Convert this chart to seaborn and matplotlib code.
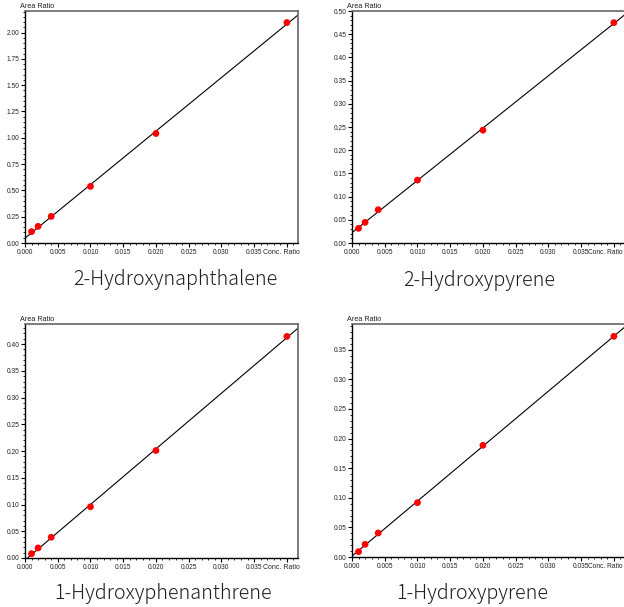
import numpy as np
import seaborn as sns
import matplotlib.pyplot as plt
from matplotlib.ticker import MultipleLocator, FuncFormatter

# concentration ratio (same for all four compounds)
conc = [0.001, 0.002, 0.004, 0.010, 0.020, 0.040]

names = ["2-Hydroxynaphthalene", "2-Hydroxypyrene",
         "1-Hydroxyphenanthrene", "1-Hydroxypyrene"]

area_naphthalene = [0.108, 0.158, 0.253, 0.538, 1.041, 2.095]
area_2pyrene = [0.0316, 0.0445, 0.0717, 0.1356, 0.2432, 0.4749]
area_phenanthrene = [0.0081, 0.0188, 0.0388, 0.0958, 0.2010, 0.4144]
area_1pyrene = [0.0090, 0.0214, 0.0405, 0.0917, 0.1885, 0.3725]

areas = [area_naphthalene, area_2pyrene, area_phenanthrene, area_1pyrene]
y_max = [2.205, 0.50, 0.4376, 0.3933]
y_major = [0.25, 0.05, 0.05, 0.05]
y_minor = [0.05, 0.01, 0.01, 0.01]

sns.set_style("white")
plt.rcParams["font.family"] = ["Liberation Sans", "DejaVu Sans"]

fig = plt.figure(figsize=(6.24, 6.07), dpi=100)

W, H = 624, 607
# axes boxes in pixels: left, top, right, bottom
boxes = [(25, 11, 298, 243), (352, 11, 625, 243),
         (25, 324, 298, 558), (352, 324, 625, 557)]
# title centre x and baseline y in pixels
title_pos = [(175, 285), (479, 286), (163, 599), (472, 599)]

for i in range(4):
    l, t, r, b = boxes[i]
    ax = fig.add_axes([l / W, 1 - b / H, (r - l) / W, (b - t) / H])
    ax.set_xlim(0, 0.0417)
    ax.set_ylim(0, y_max[i])
    sns.regplot(x=np.array(conc), y=np.array(areas[i]), ax=ax, ci=None,
                truncate=False,
                scatter_kws=dict(color="#ff0000", s=24, edgecolor="none",
                                 alpha=1, zorder=3),
                line_kws=dict(color="black", lw=0.8, zorder=2))
    ax.set_xlim(0, 0.0417)
    ax.set_ylim(0, y_max[i])

    ax.xaxis.set_major_locator(MultipleLocator(0.005))
    ax.xaxis.set_minor_locator(MultipleLocator(0.001))
    ax.yaxis.set_major_locator(MultipleLocator(y_major[i]))
    ax.yaxis.set_minor_locator(MultipleLocator(y_minor[i]))
    ax.xaxis.set_major_formatter(FuncFormatter(
        lambda v, p: "" if v > 0.0375 else f"{v:.3f}"))
    ax.yaxis.set_major_formatter(FuncFormatter(lambda v, p: f"{v:.2f}"))
    ax.tick_params(axis="both", which="major", direction="out", length=3,
                   width=0.8, labelsize=4.8, pad=1, colors="black",
                   labelcolor="#222222", left=True, bottom=True)
    ax.tick_params(axis="both", which="minor", direction="out", length=1.6,
                   width=0.6, colors="black", left=True, bottom=True)
    ax.set_xlabel("")
    ax.set_ylabel("")

    for side in ["left", "bottom"]:
        ax.spines[side].set_color("black")
        ax.spines[side].set_linewidth(1.0)
    for side in ["top", "right"]:
        ax.spines[side].set_color("#666666")
        ax.spines[side].set_linewidth(1.2)

    ax.annotate("Area Ratio", xy=(0, 1), xycoords="axes fraction",
                xytext=(-3.5, 1), textcoords="offset points", fontsize=5.2,
                color="#222222", ha="left", va="bottom")
    # right-hand panels run past the picture edge, keep the label inside
    if r > W:
        ax.annotate("Conc. Ratio", xy=((W - 1) / W, 0),
                    xycoords=("figure fraction", "axes fraction"),
                    xytext=(0, -4), textcoords="offset points", fontsize=4.8,
                    color="#222222", ha="right", va="top")
    else:
        ax.annotate("Conc. Ratio", xy=(1, 0), xycoords="axes fraction",
                    xytext=(1, -4), textcoords="offset points", fontsize=5.0,
                    color="#222222", ha="right", va="top")

    tx, ty = title_pos[i]
    fig.text(tx / W, 1 - ty / H, names[i], fontsize=14.2, color="#1e1e1e",
             ha="center", va="baseline", fontweight="light",
             family=["Noto Sans CJK JP", "DejaVu Sans"])

fig.savefig("out.png", dpi=100)
